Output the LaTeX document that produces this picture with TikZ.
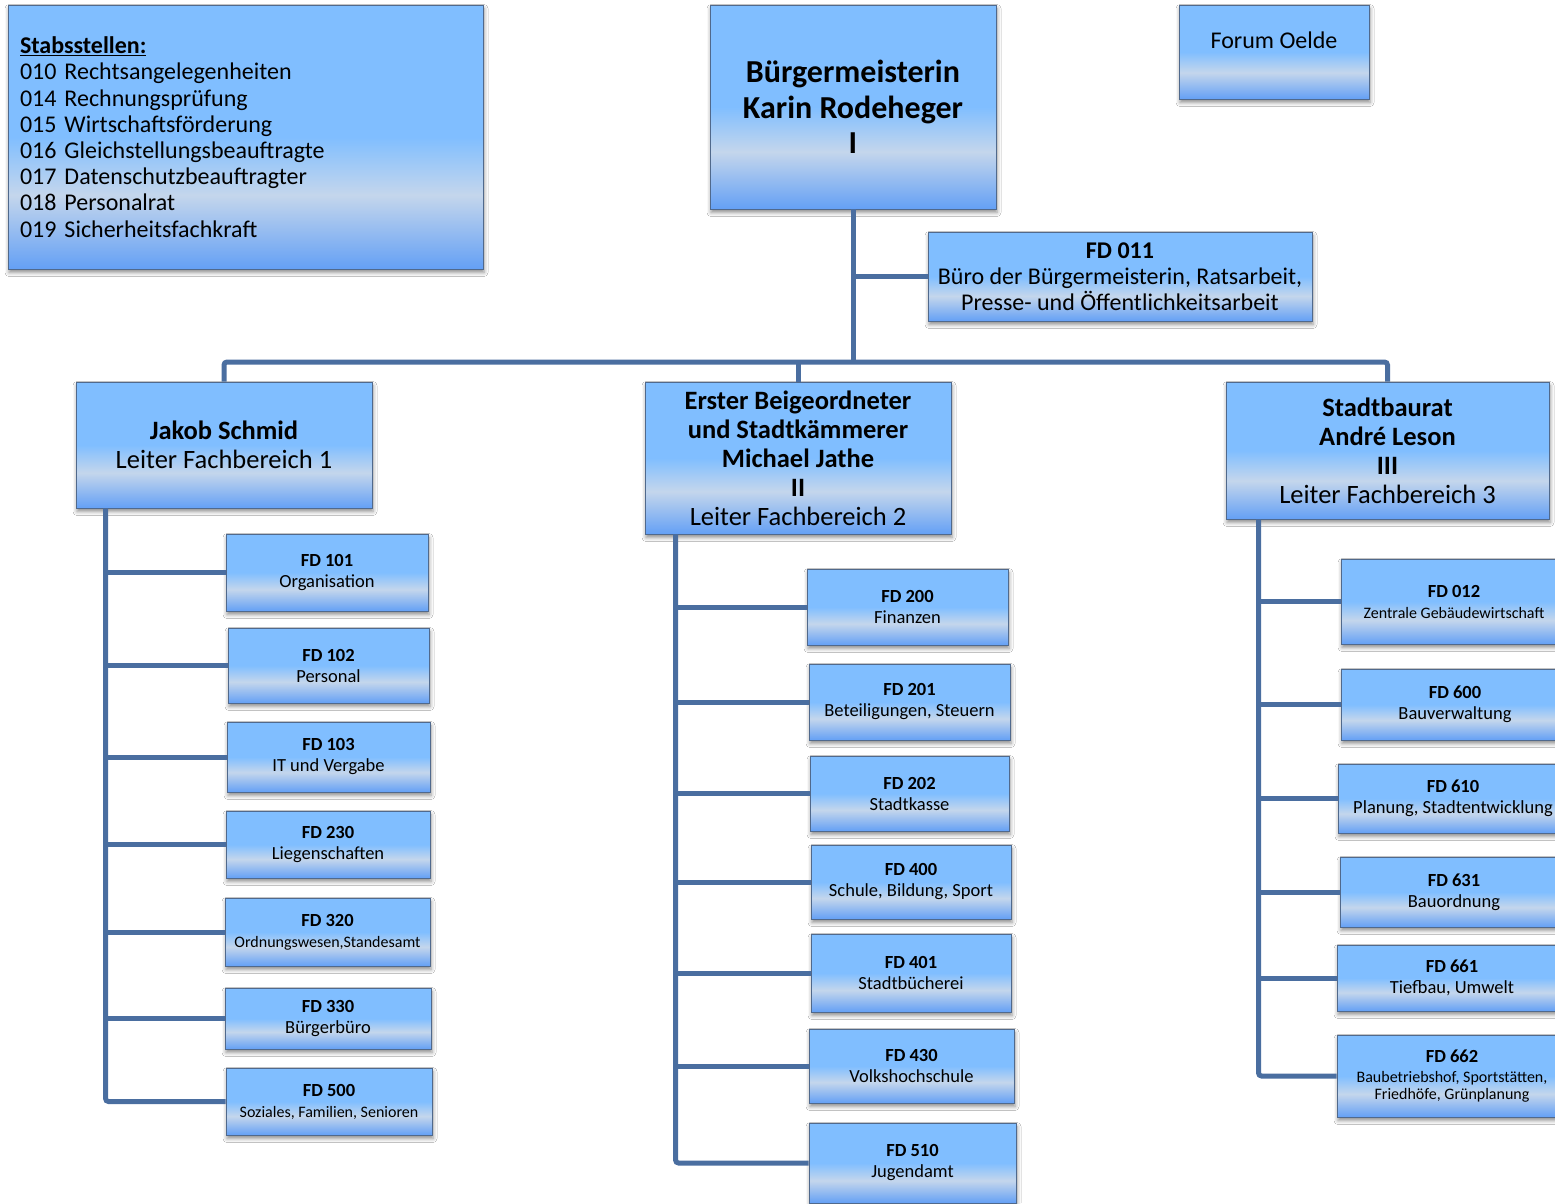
\documentclass[tikz,border=0pt]{standalone}
\usepackage{fontspec}
\setmainfont{Carlito}
\usetikzlibrary{shadows.blur}
\definecolor{shT}{RGB}{128,190,255}
\definecolor{shL}{RGB}{196,214,236}
\definecolor{shB}{RGB}{100,160,245}
\definecolor{linec}{RGB}{74,110,160}
\definecolor{bordc}{RGB}{80,105,140}
\pgfdeclareverticalshading{boxshade}{100bp}{color(0bp)=(shB); color(25bp)=(shB); color(39bp)=(shL); color(50bp)=(shT); color(100bp)=(shT)}
\tikzset{
  orgbox/.style={draw=bordc, line width=0.9pt, shade, shading=boxshade,
    blur shadow={shadow xshift=1pt, shadow yshift=-3.5pt, shadow blur radius=4pt, shadow opacity=45},
    inner sep=0pt, align=center, text=black},
  child/.style={orgbox, font=\fontsize{18.5}{21}\selectfont},
  lead/.style={orgbox, font=\fontsize{26.5}{29}\selectfont},
  conn/.style={draw=linec, line width=5pt, rounded corners=3pt}
}
\newcommand{\sm}[1]{{\fontsize{16}{17.5}\selectfont #1}}
\begin{document}
\begin{tikzpicture}[x=1pt,y=-1pt]
\useasboundingbox (0,0) rectangle (1555,1203);
\fill[white] (0,0) rectangle (1555,1203);

% top row
\node[orgbox, minimum width=475pt, minimum height=264pt, text width=451pt, align=left,
  font=\fontsize{24}{26.2}\selectfont] (stab) at (245.5,137)
  {\textbf{\underline{Stabsstellen:}}\\010 Rechtsangelegenheiten\\014 Rechnungsprüfung\\015 Wirtschaftsförderung\\016 Gleichstellungsbeauftragte\\017 Datenschutzbeauftragter\\018 Personalrat\\019 Sicherheitsfachkraft};
\node[orgbox, minimum width=286pt, minimum height=204pt, font=\bfseries\fontsize{32}{35.5}\selectfont] (bm) at (853,107)
  {Bürgermeisterin\\Karin Rodeheger\\I};
\node[orgbox, minimum width=190pt, minimum height=94pt] (forum) at (1274,52) {};
\node[inner sep=0pt, font=\fontsize{24}{29}\selectfont] (forumtxt) at (1274,40.5) {Forum Oelde};
\node[orgbox, minimum width=384pt, minimum height=89pt, font=\fontsize{24}{26}\selectfont] (fd011) at (1120,276.5)
  {\textbf{FD 011}\\Büro der Bürgermeisterin, Ratsarbeit,\\Presse- und Öffentlichkeitsarbeit};

% second level
\node[lead, minimum width=296pt, minimum height=126pt] (js) at (224,445)
  {\textbf{Jakob Schmid}\\Leiter Fachbereich 1};
\node[lead, minimum width=306pt, minimum height=152pt] (eb) at (798,458)
  {\textbf{Erster Beigeordneter}\\\textbf{und Stadtkämmerer}\\\textbf{Michael Jathe}\\\textbf{II}\\Leiter Fachbereich 2};
\node[lead, minimum width=323pt, minimum height=137pt] (sb) at (1387.5,450.5)
  {\textbf{Stadtbaurat}\\\textbf{André Leson}\\\textbf{III}\\Leiter Fachbereich 3};

% left column
\node[child, minimum width=202pt, minimum height=77pt] (fd101) at (327,572.5) {\textbf{FD 101}\\Organisation};
\node[child, minimum width=201pt, minimum height=75pt] (fd102) at (328.5,665.5) {\textbf{FD 102}\\Personal};
\node[child, minimum width=203pt, minimum height=70pt] (fd103) at (328.5,757) {\textbf{FD 103}\\IT und Vergabe};
\node[child, minimum width=204pt, minimum height=67pt] (fd230) at (328,844.5) {\textbf{FD 230}\\Liegenschaften};
\node[child, minimum width=205pt, minimum height=68pt] (fd320) at (327.5,932) {\textbf{FD 320}\\\sm{Ordnungswesen,Standesamt}};
\node[child, minimum width=206pt, minimum height=61pt] (fd330) at (328,1018.5) {\textbf{FD 330}\\Bürgerbüro};
\node[child, minimum width=206pt, minimum height=67pt] (fd500) at (329,1101.5) {\textbf{FD 500}\\\sm{Soziales, Familien, Senioren}};

% middle column
\node[child, minimum width=201pt, minimum height=76pt] (fd200) at (907.5,607) {\textbf{FD 200}\\Finanzen};
\node[child, minimum width=201pt, minimum height=76pt] (fd201) at (909.5,702) {\textbf{FD 201}\\Beteiligungen, Steuern};
\node[child, minimum width=199pt, minimum height=75pt] (fd202) at (909.5,793.5) {\textbf{FD 202}\\Stadtkasse};
\node[child, minimum width=200pt, minimum height=74pt] (fd400) at (911,882) {\textbf{FD 400}\\Schule, Bildung, Sport};
\node[child, minimum width=200pt, minimum height=78pt] (fd401) at (911,973) {\textbf{FD 401}\\Stadtbücherei};
\node[child, minimum width=205pt, minimum height=74pt] (fd430) at (911.5,1066) {\textbf{FD 430}\\Volkshochschule};
\node[child, minimum width=207pt, minimum height=80pt] (fd510) at (912.5,1163) {\textbf{FD 510}\\Jugendamt};

% right column
\node[child, minimum width=226pt, minimum height=85pt] (fd012) at (1454,601.5) {\textbf{FD 012}\\\sm{Zentrale Gebäudewirtschaft}};
\node[child, minimum width=228pt, minimum height=71pt] (fd600) at (1455,704.5) {\textbf{FD 600}\\Bauverwaltung};
\node[child, minimum width=230pt, minimum height=69pt] (fd610) at (1453,798.5) {\textbf{FD 610}\\Planung, Stadtentwicklung};
\node[child, minimum width=228pt, minimum height=70pt] (fd631) at (1454,892) {\textbf{FD 631}\\Bauordnung};
\node[child, minimum width=230pt, minimum height=66pt] (fd661) at (1452,978) {\textbf{FD 661}\\Tiefbau, Umwelt};
\node[child, minimum width=230pt, minimum height=82pt] (fd662) at (1452,1076) {\textbf{FD 662}\\[-1pt]\sm{Baubetriebshof, Sportstätten,}\\[-3.5pt]\sm{Friedhöfe, Grünplanung}};

% connectors
\coordinate (bus) at (853,362);
\draw[conn] (bm.south) -- (bus);
\draw[conn] (bm.south |- fd011.west) -- (fd011.west);
\draw[conn] (js.north) |- (bus) -| (sb.north);
\draw[conn] (eb.north) -- (eb.north |- bus);

\coordinate (lt) at ([xshift=30pt]js.south west);
\draw[conn] (lt) |- (fd500.west);
\foreach \n in {fd101,fd102,fd103,fd230,fd320,fd330}
  \draw[conn] (lt |- \n.west) -- (\n.west);

\coordinate (mt) at ([xshift=31pt]eb.south west);
\draw[conn] (mt) |- (fd510.west);
\foreach \n in {fd200,fd201,fd202,fd400,fd401,fd430}
  \draw[conn] (mt |- \n.west) -- (\n.west);

\coordinate (rt) at ([xshift=33pt]sb.south west);
\draw[conn] (rt) |- (fd662.west);
\foreach \n in {fd012,fd600,fd610,fd631,fd661}
  \draw[conn] (rt |- \n.west) -- (\n.west);
\end{tikzpicture}
\end{document}
